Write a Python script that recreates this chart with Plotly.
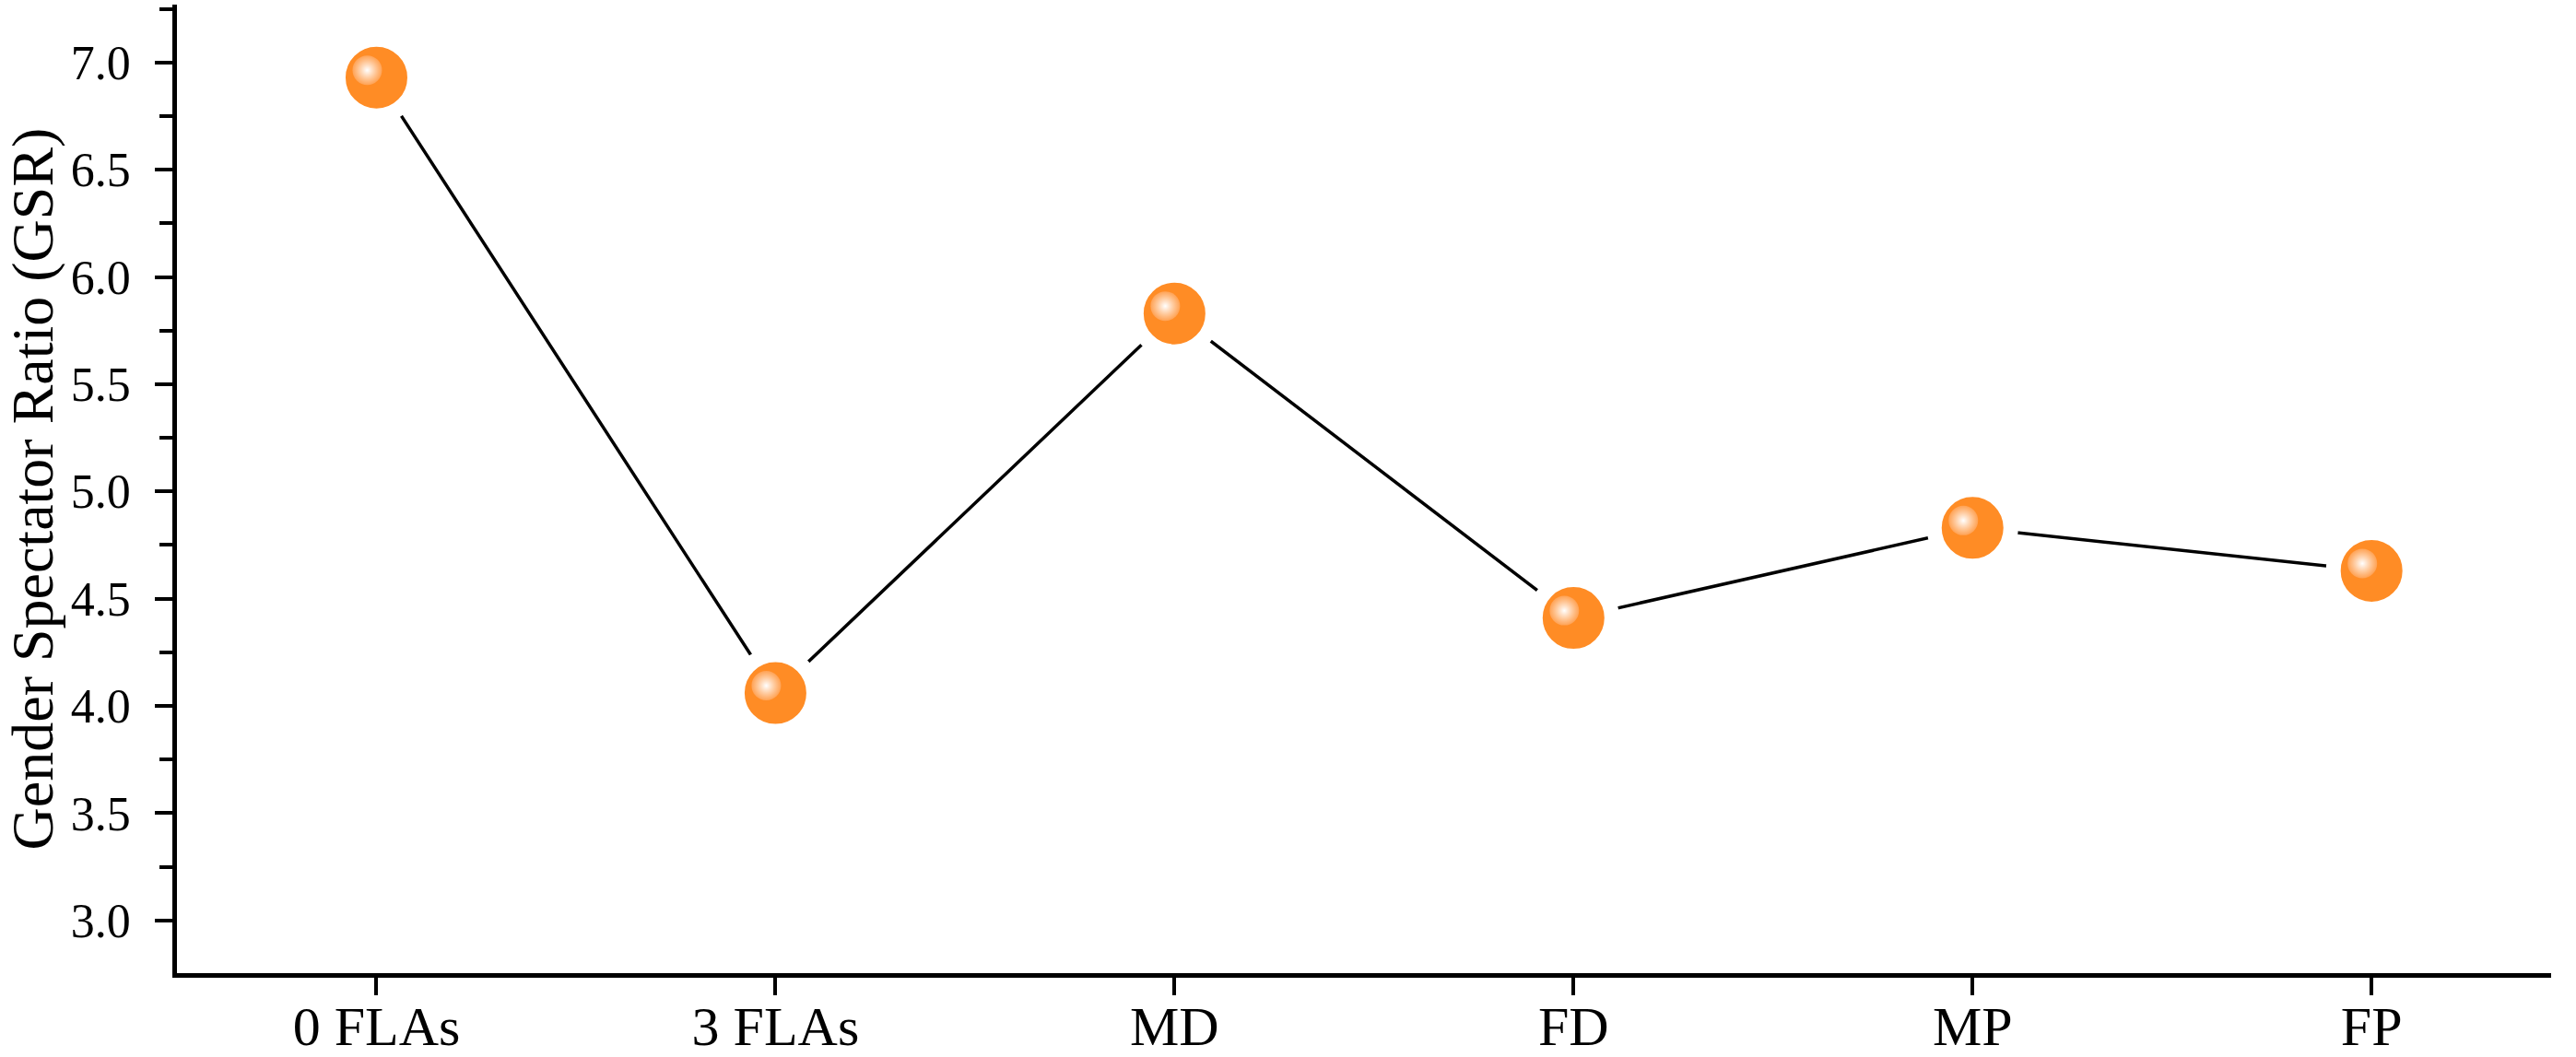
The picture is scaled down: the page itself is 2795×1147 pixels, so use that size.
import plotly.graph_objects as go

categories = ["0 FLAs", "3 FLAs", "MD", "FD", "MP", "FP"]
gsr_values = [6.93, 4.06, 5.83, 4.41, 4.83, 4.63]

W, H = 2795, 1147
ML, MR, MT, MB = 192, 27, 5, 91
XR = [-0.5, 5.45]
YR = [2.754, 7.27]
pw = W - ML - MR
ph = H - MT - MB
# highlight offset (pixels) converted to axis units
dx = 10 * (XR[1] - XR[0]) / pw
dy = 8 * (YR[1] - YR[0]) / ph

serif = "Liberation Serif, Times New Roman, serif"
xidx = list(range(len(categories)))

fig = go.Figure()
fig.add_trace(go.Scatter(
    x=xidx, y=gsr_values, mode="lines",
    line=dict(color="black", width=3.5), showlegend=False, hoverinfo="skip"))
fig.add_trace(go.Scatter(
    x=xidx, y=gsr_values, mode="markers",
    marker=dict(size=83, color="#FF8C25", line=dict(color="white", width=16)),
    showlegend=False))
fig.add_trace(go.Scatter(
    x=xidx, y=gsr_values, mode="markers", xaxis="x2", yaxis="y2",
    marker=dict(size=32, color="rgba(255,165,90,0.9)",
                gradient=dict(type="radial", color="white"),
                line=dict(width=0)),
    showlegend=False, hoverinfo="skip"))

fig.update_layout(
    width=W, height=H,
    margin=dict(l=ML, r=MR, t=MT, b=MB),
    paper_bgcolor="white", plot_bgcolor="white",
    font=dict(family=serif, color="black"),
    xaxis=dict(
        range=XR, tickvals=xidx, ticktext=categories,
        showgrid=False, zeroline=False,
        showline=True, linecolor="black", linewidth=4.5,
        ticks="outside", ticklen=19, tickwidth=4, tickcolor="black",
        tickfont=dict(size=60, family=serif), automargin=False,
        ticklabelstandoff=-18),
    yaxis=dict(
        range=YR, dtick=0.5, tick0=3.0, tickformat=".1f",
        showgrid=False, zeroline=False,
        showline=True, linecolor="black", linewidth=4.5,
        ticks="outside", ticklen=19, tickwidth=4, tickcolor="black",
        minor=dict(dtick=0.25, ticks="outside", ticklen=14, tickwidth=3.5, tickcolor="black"),
        tickfont=dict(size=52, family=serif), automargin=False,
        ticklabelstandoff=16,
        title=dict(text="Gender Spectator Ratio (GSR)", font=dict(size=64, family=serif), standoff=24)),
    xaxis2=dict(range=[XR[0] + dx, XR[1] + dx], visible=False, overlaying="x"),
    yaxis2=dict(range=[YR[0] - dy, YR[1] - dy], visible=False, overlaying="y"),
)

fig.write_html("out.html")
